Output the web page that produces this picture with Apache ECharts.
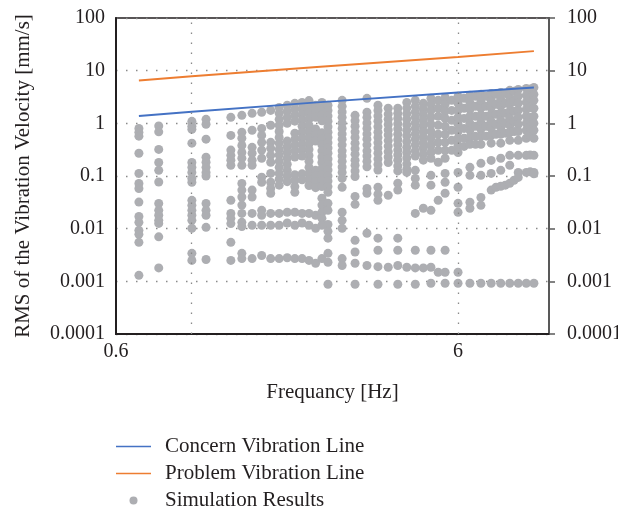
<!DOCTYPE html>
<html><head><meta charset="utf-8">
<script src="https://cdn.jsdelivr.net/npm/echarts@6/dist/echarts.min.js"></script>
<style>html,body{margin:0;padding:0;background:#fff;overflow:hidden}#c{width:618px;height:515px}</style>
</head><body><div id="c"></div>
<script>
const X_MIN = 0.6, X_MAX = 11.07;
const Y_MIN = 0.0001, Y_MAX = 100;
const xTickLabels = [0.6, 6];
const yTickLabels = ['0.0001', '0.001', '0.01', '0.1', '1', '10', '100'];
const gridFreqs = [1, 6];

const concernFreq = [0.7, 1, 2.32, 6, 10];
const concernVel  = [1.38, 1.66, 2.5, 3.83, 4.8];
const problemFreq = [0.7, 1, 2.32, 6, 10];
const problemVel  = [6.53, 7.8, 11.7, 18.1, 23.5];

const simFreqs = [0.7, 0.8, 1.0, 1.1, 1.3, 1.4, 1.5, 1.6, 1.7, 1.8, 1.9, 2.0, 2.1, 2.2, 2.3, 2.4,
  2.5, 2.75, 3.0, 3.25, 3.5, 3.75, 4.0, 4.25, 4.5, 4.75, 5.0, 5.25, 5.5, 5.75, 6.0, 6.25, 6.5, 6.75,
  7.0, 7.25, 7.5, 7.75, 8.0, 8.25, 8.5, 8.75, 9.0, 9.5, 9.75, 10.0];
const simVel = [
  [0.80, 0.675, 0.57, 0.27, 0.112, 0.072, 0.058, 0.032, 0.017, 0.0132, 0.0093, 0.0078, 0.0055, 0.0013],
  [0.89, 0.69, 0.32, 0.18, 0.128, 0.077, 0.030, 0.0223, 0.018, 0.0144, 0.0126, 0.0070, 0.0018],
  [1.09, 0.88, 0.77, 0.42, 0.18, 0.146, 0.117, 0.090, 0.076, 0.0345, 0.0277, 0.0223, 0.018, 0.0144, 0.0102, 0.0034, 0.0025],
  [1.19, 0.96, 0.50, 0.227, 0.182, 0.146, 0.117, 0.1, 0.030, 0.0223, 0.018, 0.0106, 0.0026],
  [1.30, 0.59, 0.31, 0.247, 0.20, 0.16, 0.0345, 0.0195, 0.0157, 0.0125, 0.0055, 0.0025],
  [1.42, 0.675, 0.52, 0.38, 0.28, 0.217, 0.16, 0.072, 0.054, 0.04, 0.028, 0.0195, 0.0132, 0.011, 0.0034, 0.0027],
  [1.55, 0.74, 0.35, 0.27, 0.2, 0.16, 0.054, 0.04, 0.0195, 0.0116, 0.0027],
  [1.62, 0.80, 0.59, 0.436, 0.31, 0.217, 0.095, 0.076, 0.0223, 0.018, 0.0116, 0.0031],
  [1.76, 0.92, 0.436, 0.335, 0.247, 0.182, 0.112, 0.076, 0.058, 0.047, 0.0195, 0.0116, 0.0027],
  [2.0, 1.55, 1.19, 0.92, 0.7, 0.54, 0.42, 0.32, 0.25, 0.19, 0.146, 0.112, 0.087, 0.067, 0.0195, 0.0116, 0.0027],
  [2.2, 1.7, 1.3, 1.0, 0.46, 0.36, 0.28, 0.217, 0.167, 0.128, 0.1, 0.078, 0.0205, 0.0128, 0.0028],
  [2.4, 1.85, 1.42, 1.1, 0.65, 0.5, 0.385, 0.3, 0.23, 0.106, 0.082, 0.063, 0.049, 0.0205, 0.0116, 0.0027],
  [2.5, 1.9, 1.48, 1.14, 0.88, 0.68, 0.52, 0.4, 0.31, 0.24, 0.11, 0.085, 0.0195, 0.0128, 0.0027],
  [2.7, 2.05, 1.57, 1.2, 0.92, 0.7, 0.54, 0.41, 0.32, 0.245, 0.19, 0.146, 0.112, 0.086, 0.066, 0.0195, 0.0116, 0.0025],
  [2.2, 1.7, 1.3, 0.78, 0.6, 0.46, 0.128, 0.1, 0.078, 0.06, 0.018, 0.0102, 0.0022],
  [2.5, 1.9, 1.45, 1.12, 0.66, 0.51, 0.39, 0.3, 0.23, 0.18, 0.138, 0.106, 0.082, 0.063, 0.038, 0.028, 0.0205, 0.0157, 0.0116, 0.0027],
  [2.2, 1.75, 1.38, 1.1, 0.86, 0.68, 0.54, 0.43, 0.34, 0.27, 0.21, 0.165, 0.13, 0.1, 0.08, 0.063, 0.049, 0.0303, 0.0223, 0.012, 0.0089, 0.0066, 0.0034, 0.0023, 0.00088],
  [2.73, 2.1, 1.65, 1.3, 1.02, 0.8, 0.63, 0.5, 0.39, 0.3, 0.24, 0.19, 0.148, 0.117, 0.09, 0.061, 0.0205, 0.0144, 0.0102, 0.0027, 0.002],
  [1.42, 1.12, 0.88, 0.69, 0.54, 0.42, 0.33, 0.26, 0.2, 0.16, 0.125, 0.098, 0.041, 0.029, 0.006, 0.0036, 0.0022, 0.00088],
  [2.98, 1.62, 1.3, 1.02, 0.8, 0.63, 0.5, 0.39, 0.3, 0.24, 0.19, 0.15, 0.058, 0.047, 0.0082, 0.002],
  [2.2, 1.75, 1.38, 1.1, 0.86, 0.68, 0.54, 0.43, 0.34, 0.27, 0.21, 0.165, 0.13, 0.061, 0.045, 0.0345, 0.0066, 0.0039, 0.0019, 0.00088],
  [1.93, 1.5, 1.2, 0.95, 0.75, 0.6, 0.47, 0.37, 0.29, 0.23, 0.18, 0.043, 0.00185],
  [1.93, 1.55, 1.24, 0.98, 0.78, 0.62, 0.49, 0.39, 0.31, 0.25, 0.2, 0.155, 0.125, 0.073, 0.054, 0.0066, 0.0039, 0.002, 0.00088],
  [2.5, 1.95, 1.52, 1.2, 0.94, 0.74, 0.58, 0.45, 0.35, 0.28, 0.22, 0.17, 0.135, 0.117, 0.00185],
  [2.73, 2.1, 1.65, 1.3, 1.02, 0.8, 0.63, 0.5, 0.39, 0.3, 0.24, 0.128, 0.09, 0.067, 0.0195, 0.0039, 0.0018, 0.00088],
  [2.4, 1.88, 1.47, 1.15, 0.9, 0.7, 0.55, 0.43, 0.34, 0.26, 0.2, 0.0244, 0.0018],
  [2.98, 2.3, 1.76, 1.3, 0.96, 0.7, 0.52, 0.38, 0.28, 0.217, 0.103, 0.067, 0.0223, 0.0039, 0.00185, 0.00092],
  [2.73, 1.93, 1.36, 0.92, 0.62, 0.436, 0.307, 0.182, 0.0345, 0.00149],
  [3.1, 2.3, 1.69, 1.24, 0.88, 0.62, 0.436, 0.307, 0.217, 0.112, 0.076, 0.047, 0.0039, 0.00149, 0.00092],
  [2.73, 1.76, 1.14, 0.74, 0.475, 0.307],
  [3.25, 2.4, 1.76, 1.3, 0.96, 0.7, 0.52, 0.38, 0.28, 0.117, 0.061, 0.0303, 0.0205, 0.00149, 0.00092],
  [2.98, 1.93, 1.24, 0.8, 0.52, 0.365],
  [3.4, 2.5, 1.84, 1.36, 1.0, 0.74, 0.54, 0.4, 0.146, 0.103, 0.0318, 0.0244, 0.00092],
  [3.25, 2.1, 1.36, 0.88, 0.57, 0.4],
  [3.55, 2.6, 1.93, 1.42, 1.04, 0.77, 0.57, 0.4, 0.174, 0.103, 0.039, 0.0277, 0.00092],
  [3.25, 2.1, 1.36, 0.88, 0.57],
  [3.7, 2.73, 2.0, 1.48, 1.09, 0.8, 0.59, 0.42, 0.198, 0.112, 0.054, 0.00092],
  [3.55, 2.3, 1.48, 0.96, 0.62, 0.061],
  [3.87, 2.85, 2.1, 1.55, 1.14, 0.84, 0.62, 0.42, 0.217, 0.128, 0.064, 0.00092],
  [3.7, 2.4, 1.55, 1.0, 0.65, 0.067],
  [4.23, 3.1, 2.3, 1.69, 1.24, 0.92, 0.675, 0.475, 0.247, 0.16, 0.073, 0.00092],
  [4.05, 2.6, 1.69, 1.09, 0.7, 0.083],
  [4.4, 3.25, 2.4, 1.76, 1.3, 0.96, 0.7, 0.475, 0.247, 0.117, 0.094, 0.00092],
  [4.6, 3.4, 2.5, 1.84, 1.36, 1.0, 0.74, 0.52, 0.247, 0.117, 0.00092],
  [4.5, 3.0, 2.0, 1.3, 0.85, 0.6, 0.25, 0.12],
  [4.8, 3.55, 2.73, 1.93, 1.36, 1.0, 0.74, 0.52, 0.247, 0.117, 0.11, 0.00092]
];

const FONT = "'Liberation Serif','DejaVu Serif',serif";
const u = f => Math.log10(f / X_MIN);
const simData = [];
simFreqs.forEach((f, i) => simVel[i].forEach(v => simData.push([u(f), v])));
const concernData = concernFreq.map((f, i) => [u(f), concernVel[i]]);
const problemData = problemFreq.map((f, i) => [u(f), problemVel[i]]);

const yFmt = v => {
  const e = Math.round(Math.log10(v));
  return yTickLabels[e + 4] || '';
};
const xFmt = v => {
  const k = Math.round(v);
  return Math.abs(v - k) < 1e-6 && xTickLabels[k] != null ? String(xTickLabels[k]) : '';
};
const dotted = { color: '#8a8a8a', type: [1.5, 8.5], width: 1.3 };

const yBase = {
  type: 'log', logBase: 10, min: Y_MIN, max: Y_MAX, interval: 1,
  axisLabel: { formatter: yFmt, fontFamily: FONT, fontSize: 20, color: '#231f20' }
};
const LINE_ICON = 'path://M0,0H35V1.3H0Z';

const chart = echarts.init(document.getElementById('c'), null, { renderer: 'canvas' });
chart.setOption({
  animation: false,
  backgroundColor: '#fff',
  grid: { left: 116, right: 69, top: 18, bottom: 181, show: true, borderColor: '#231f20', borderWidth: 1.5,
          outerBoundsMode: 'none', containLabel: false },
  xAxis: {
    type: 'value', min: 0, max: u(X_MAX), interval: 1,
    name: 'Frequancy [Hz]', nameLocation: 'middle', nameGap: 48,
    nameTextStyle: { fontFamily: FONT, fontSize: 21, color: '#231f20' },
    axisLine: { show: true, lineStyle: { color: '#231f20', width: 2 } },
    axisTick: { show: false },
    splitLine: { show: false },
    axisLabel: { formatter: xFmt, fontFamily: FONT, fontSize: 20, color: '#231f20', margin: 8, showMaxLabel: false }
  },
  yAxis: [
    Object.assign({}, yBase, {
      position: 'left',
      name: 'RMS of the Vibration Velocity [mm/s]', nameLocation: 'middle', nameGap: 82,
      nameTextStyle: { fontFamily: FONT, fontSize: 21, color: '#231f20' },
      axisLine: { show: true, lineStyle: { color: '#231f20', width: 2 } },
      axisTick: { show: false },
      splitLine: { show: true, lineStyle: dotted },
      axisLabel: Object.assign({}, yBase.axisLabel, { margin: 11 })
    }),
    Object.assign({}, yBase, {
      position: 'right',
      axisLine: { show: true, lineStyle: { color: '#595959', width: 2 } },
      axisTick: { show: true, inside: false, length: 6, lineStyle: { color: '#595959', width: 1.5 } },
      splitLine: { show: false },
      axisLabel: Object.assign({}, yBase.axisLabel, { margin: 18 })
    })
  ],
  legend: {
    orient: 'vertical', left: 116, top: 436, padding: 0,
    itemWidth: 35, itemHeight: 8, itemGap: 6,
    textStyle: { fontFamily: FONT, fontSize: 21, color: '#231f20', padding: [0, 0, 0, 9] },
    data: [
      { name: 'Concern Vibration Line', icon: LINE_ICON },
      { name: 'Problem Vibration Line', icon: LINE_ICON },
      { name: 'Simulation Results', icon: 'circle' }
    ]
  },
  series: [
    {
      name: 'Simulation Results', type: 'scatter', data: simData, z: 2,
      symbol: 'circle', symbolSize: 9,
      itemStyle: { color: '#adaeb2', opacity: 1 },
      markLine: {
        silent: true, symbol: 'none', animation: false,
        label: { show: false },
        lineStyle: dotted,
        data: gridFreqs.map(f => ({ xAxis: u(f) }))
      }
    },
    {
      name: 'Concern Vibration Line', type: 'line', data: concernData, z: 4,
      symbol: 'none', lineStyle: { color: '#4472c4', width: 2 }, itemStyle: { color: '#4472c4' }
    },
    {
      name: 'Problem Vibration Line', type: 'line', data: problemData, z: 4,
      symbol: 'none', lineStyle: { color: '#ed7d31', width: 2 }, itemStyle: { color: '#ed7d31' }
    }
  ]
});
</script></body></html>
